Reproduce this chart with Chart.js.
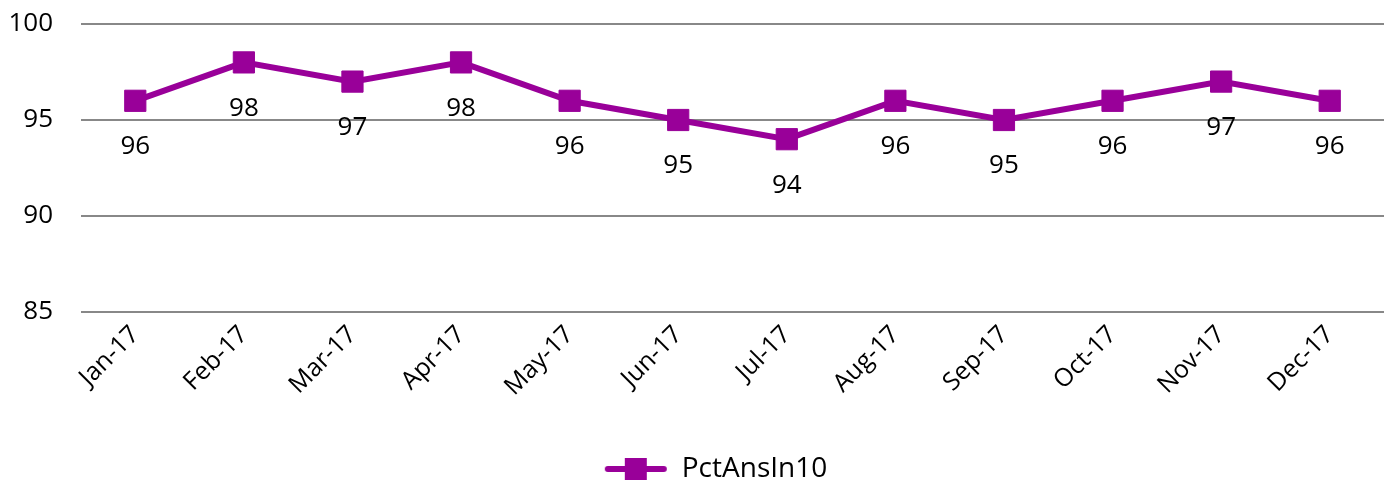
<!DOCTYPE html>
<html><head><meta charset="utf-8">
<script src="https://cdn.jsdelivr.net/npm/chart.js@4.4.1/dist/chart.umd.min.js"></script>
<style>html,body{margin:0;padding:0;background:#fff}#wrap{width:1400px;height:483px}</style>
</head><body><div id="wrap"><canvas id="c" width="1400" height="483"></canvas></div>
<script>
const categories = ["Jan-17","Feb-17","Mar-17","Apr-17","May-17","Jun-17","Jul-17","Aug-17","Sep-17","Oct-17","Nov-17","Dec-17"];
const pctAnsIn10 = [96,98,97,98,96,95,94,96,95,96,97,96];
const yTicks = [85,90,95,100];
const seriesName = "PctAnsIn10";
const COLOR = "#990099";
const FONT = "'Open Sans', 'Noto Sans', sans-serif";

const legendIcon = document.createElement('canvas');
legendIcon.width = 100; legendIcon.height = 24;
(function(){const g=legendIcon.getContext('2d');g.strokeStyle=COLOR;g.lineWidth=6;g.lineCap='round';g.beginPath();g.moveTo(40,12);g.lineTo(96,12);g.stroke();g.fillStyle=COLOR;g.fillRect(57,1,22,22);})();

const labelPlugin = {
  id:'vlabels',
  afterDatasetsDraw(chart){
    const ctx=chart.ctx; const meta=chart.getDatasetMeta(0);
    ctx.save(); ctx.font="26px "+FONT; ctx.fillStyle="#000"; ctx.textAlign='center'; ctx.textBaseline='middle';
    meta.data.forEach((p,i)=>{ ctx.fillText(String(chart.data.datasets[0].data[i]), p.x, p.y+46); });
    ctx.restore();
  }
};

new Chart(document.getElementById('c'),{
  type:'line',
  data:{labels:categories,datasets:[{label:seriesName,data:pctAnsIn10,borderColor:COLOR,backgroundColor:COLOR,borderWidth:6,pointStyle:'rect',pointRadius:15,pointHoverRadius:15,pointBorderWidth:1,pointBackgroundColor:COLOR,pointBorderColor:COLOR,tension:0}]},
  options:{
    responsive:false,animation:false,
    layout:{padding:{left:0,right:5,top:24,bottom:-10}},
    plugins:{
      tooltip:{enabled:false},
      legend:{position:'bottom',labels:{usePointStyle:true,pointStyleWidth:100,boxHeight:24,font:{size:28,family:FONT},color:'#000',padding:2,
        generateLabels(chart){return [{text:seriesName,pointStyle:legendIcon,fillStyle:COLOR,strokeStyle:COLOR,lineWidth:0,datasetIndex:0,fontColor:'#000'}];}}}
    },
    scales:{
      x:{offset:true,grid:{display:false},border:{display:false},
        ticks:{maxRotation:45,minRotation:45,autoSkip:false,color:'#000',font:{size:25,family:FONT},padding:0},
        afterFit(s){s.height=141;}},
      y:{min:85,max:100,afterBuildTicks(s){s.ticks=yTicks.map(v=>({value:v}));},
        grid:{color:'#888',lineWidth:2,drawTicks:false},border:{display:false},
        ticks:{color:'#000',font:{size:26,family:FONT},padding:28},
        afterFit(s){s.width=81;s.paddingTop=0;s.paddingBottom=0;}}
    }
  },
  plugins:[labelPlugin]
});
</script></body></html>
